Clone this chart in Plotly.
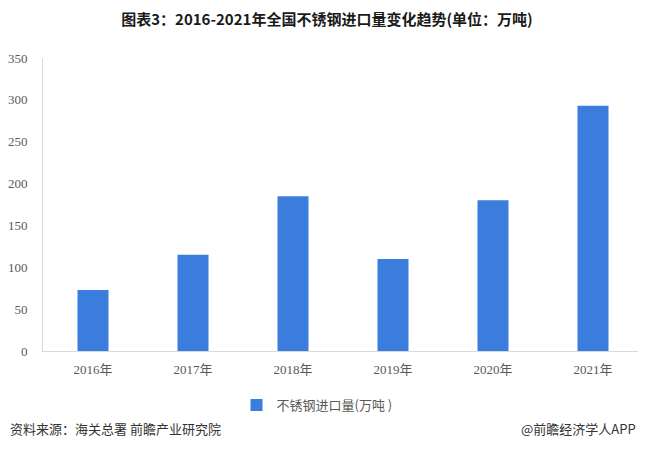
import plotly.graph_objects as go

years = ["2016年", "2017年", "2018年", "2019年", "2020年", "2021年"]
imports = [73, 115, 185, 110, 180, 293]
series_name = "不锈钢进口量(万吨 )"
y_ticks = [0, 50, 100, 150, 200, 250, 300, 350]

# page body has an 8px default margin; figure is sized so it ends at the window edge
W, H = 638, 449

fig = go.Figure()
fig.add_trace(go.Bar(
    x=years, y=imports, name=series_name,
    marker=dict(color="#3b7ddd", line=dict(width=0)),
    width=0.31, showlegend=True,
))

fig.update_layout(
    width=W, height=H,
    margin=dict(l=35, r=3, t=50, b=106, autoexpand=False),
    paper_bgcolor="white", plot_bgcolor="white",
    title=dict(
        text="<b>图表3：2016-2021年全国不锈钢进口量变化趋势(单位：万吨)</b>",
        x=0.5, xanchor="center", y=1 - 12 / H, yanchor="middle",
        font=dict(family="Noto Sans CJK SC", size=15, color="#1a1a1a"),
    ),
    xaxis=dict(
        showgrid=False, showline=True, linecolor="#d9d9d9", linewidth=1,
        ticks="", tickfont=dict(family="Liberation Serif, Noto Sans CJK SC", size=13, color="#595959"),
        ticklabelstandoff=6,
    ),
    yaxis=dict(
        range=[0, 350], tickvals=y_ticks, showgrid=False,
        showline=True, linecolor="#d9d9d9", linewidth=1,
        ticks="", tickfont=dict(family="Liberation Serif", size=13, color="#595959"),
        ticklabelstandoff=12, zeroline=False,
    ),
    legend=dict(
        orientation="h", x=0.5 - 26 / 600, xanchor="center", y=1 - 397 / H, yref="container",
        yanchor="middle",
        font=dict(family="Noto Sans CJK SC", size=13, color="#595959"),
        itemwidth=30,
    ),
    bargap=0.69,
)

fig.add_annotation(
    text="资料来源：海关总署 前瞻产业研究院", xref="paper", yref="paper",
    x=-35 / 600, xanchor="left", y=-(428 - 351) / 293, yanchor="middle",
    showarrow=False, font=dict(family="Noto Sans CJK SC", size=13, color="#333333"),
)
fig.add_annotation(
    text="@前瞻经济学人APP", xref="paper", yref="paper",
    x=0.992, xanchor="right", y=-(428 - 351) / 293, yanchor="middle",
    showarrow=False, font=dict(family="Noto Sans CJK SC", size=13, color="#333333"),
)

fig.write_html("out.html")
